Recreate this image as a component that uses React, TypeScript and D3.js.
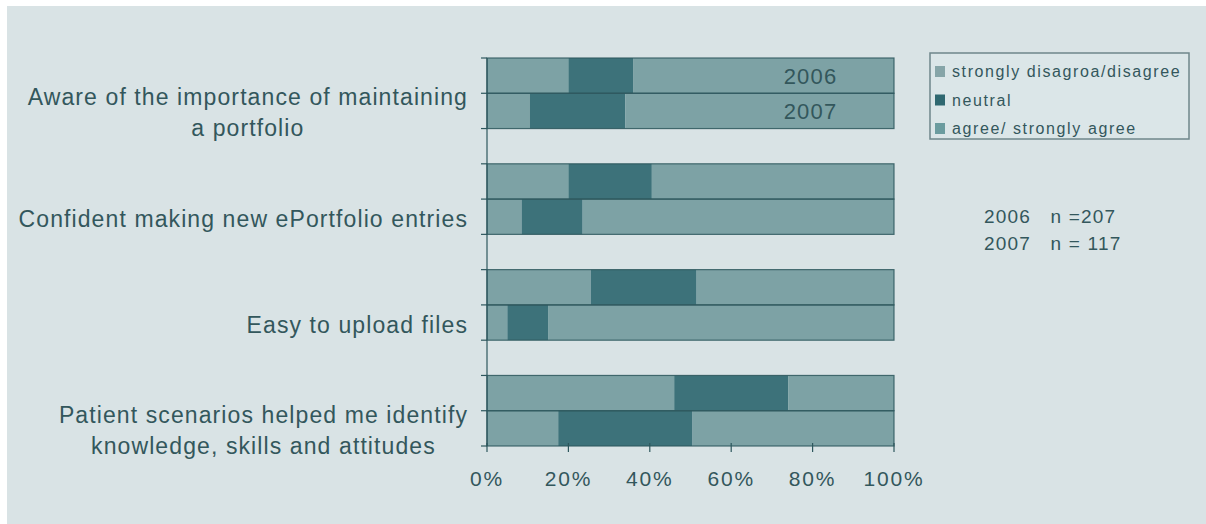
import React from "react";
import * as d3 from "d3";

// ---- data ----
const questions: string[][] = [
  ["Aware of the importance of maintaining", "a portfolio"],
  ["Confident making new ePortfolio entries"],
  ["Easy to upload files"],
  ["Patient scenarios helped me identify", "knowledge, skills and attitudes"],
];
const years = ["2006", "2007"];
const seriesNames = ["strongly disagroa/disagree", "neutral", "agree/ strongly agree"];
const disagree2006 = [20, 20, 25.5, 46];
const neutral2006 = [16, 20.5, 26, 28];
const agree2006 = [64, 59.5, 48.5, 26];
const disagree2007 = [10.5, 8.5, 5, 17.5];
const neutral2007 = [23.5, 15, 10, 33];
const agree2007 = [66, 76.5, 85, 49.5];
const xTicks = [0, 20, 40, 60, 80, 100];
const sampleNotes = ["2006   n =207", "2007   n = 117"];

const W = 1206;
const H = 524;
const BG = "#d9e3e5";
const LIGHT = "#7da2a5";
const DARK = "#3d727a";
const LINE = "#2d575d";
const TEXT = "#33575c";
const FONT = "'Liberation Sans', Arial, sans-serif";
const seriesColors = [LIGHT, DARK, LIGHT];
const legendSwatch = ["#86a5a8", "#2f6870", "#6b9c9f"];

type Row = { key: string; q: number; year: string; d: number; n: number; a: number };

const rows: Row[] = [];
const bandKeys: string[] = [];
questions.forEach((_, qi) => {
  years.forEach((y, yi) => {
    const key = `q${qi}-${y}`;
    bandKeys.push(key);
    rows.push({
      key,
      q: qi,
      year: y,
      d: yi === 0 ? disagree2006[qi] : disagree2007[qi],
      n: yi === 0 ? neutral2006[qi] : neutral2007[qi],
      a: yi === 0 ? agree2006[qi] : agree2007[qi],
    });
  });
  if (qi < questions.length - 1) bandKeys.push(`gap${qi}`);
});

const measure = (() => {
  let ctx: CanvasRenderingContext2D | null = null;
  return (t: string, size: number, ls: number) => {
    if (!ctx) ctx = document.createElement("canvas").getContext("2d");
    const base = ctx
      ? ((ctx.font = `${size}px 'Liberation Sans', Arial, sans-serif`), ctx.measureText(t).width)
      : t.length * size * 0.5;
    return base + t.length * ls;
  };
})();

export default function App() {
  const x = d3.scaleLinear().domain([0, 100]).range([487, 894]);
  const y = d3.scaleBand<string>().domain(bandKeys).range([58, 446]).padding(0);
  const stack = d3.stack<Row>().keys(["d", "n", "a"]);
  const stacked = stack(rows);

  const labelFont = 23;
  const labelLS = 1.1;
  const labelRight = 468;
  const lineH = 31;

  return (
    <svg width={W} height={H} style={{ position: "absolute", left: 0, top: 0 }} fontFamily={FONT}>
      <rect x={0} y={0} width={W} height={H} fill="#ffffff" />
      <rect x={7} y={6} width={W - 7} height={H - 6} fill={BG} />

      {/* bars */}
      {stacked.map((s, si) => (
        <g key={si}>
          {s.map((d) => (
            <rect
              key={d.data.key}
              x={x(d[0])}
              y={y(d.data.key)!}
              width={x(d[1]) - x(d[0])}
              height={y.bandwidth()}
              fill={seriesColors[si]}
            />
          ))}
        </g>
      ))}
      {/* bar outlines */}
      {rows.map((r) => (
        <rect
          key={"o" + r.key}
          x={x(0)}
          y={y(r.key)!}
          width={x(100) - x(0)}
          height={y.bandwidth()}
          fill="none"
          stroke={LINE}
          strokeWidth={1.2}
          opacity={0.85}
        />
      ))}

      {/* y axis */}
      <line x1={x(0)} x2={x(0)} y1={y.range()[0]} y2={y.range()[1]} stroke={LINE} strokeWidth={1.2} />
      {bandKeys.concat(["end"]).map((k, i) => {
        const yy = i < bandKeys.length ? y(k)! : y.range()[1];
        return <line key={"yt" + i} x1={x(0) - 6} x2={x(0)} y1={yy} y2={yy} stroke={LINE} strokeWidth={1.2} />;
      })}

      {/* x axis ticks */}
      {xTicks.map((t) => (
        <g key={"xt" + t}>
          <line x1={x(t)} x2={x(t)} y1={y.range()[1] - 3} y2={y.range()[1] + 6} stroke={LINE} strokeWidth={1.2} />
          <text x={x(t)} y={486} textAnchor="middle" fontSize={21} letterSpacing={1.8} fill={TEXT}>
            {t}%
          </text>
        </g>
      ))}

      {/* year labels inside first pair */}
      {rows
        .filter((r) => r.q === 0)
        .map((r) => (
          <text
            key={"yr" + r.key}
            x={x(79.5)}
            y={y(r.key)! + y.bandwidth() / 2 + 8}
            textAnchor="middle"
            fontSize={22}
            letterSpacing={1.2}
            fill={TEXT}
          >
            {r.year}
          </text>
        ))}

      {/* category labels */}
      {questions.map((lines, qi) => {
        const maxW = Math.max(...lines.map((l) => measure(l, labelFont, labelLS)));
        const cx = labelRight - maxW / 2;
        const key2007 = `q${qi}-${years[1]}`;
        const cy = y(key2007)! + y.bandwidth() / 2 + 2;
        const top = cy - ((lines.length - 1) * lineH) / 2;
        return (
          <text key={"q" + qi} textAnchor="middle" fontSize={labelFont} letterSpacing={labelLS} fill={TEXT}>
            {lines.map((l, li) => (
              <tspan key={li} x={cx} y={top + li * lineH + 8}>
                {l}
              </tspan>
            ))}
          </text>
        );
      })}

      {/* legend */}
      <rect x={930} y={53} width={259} height={86} fill="#dbe6e8" stroke="#6f878b" strokeWidth={1.5} />
      {seriesNames.map((n, i) => (
        <g key={"lg" + i}>
          <rect x={935} y={66 + i * 28.5} width={10} height={11} fill={legendSwatch[i]} />
          <text x={952} y={77 + i * 28.5} fontSize={16} letterSpacing={1.6} fill={TEXT}>
            {n}
          </text>
        </g>
      ))}

      {/* sample sizes */}
      {sampleNotes.map((s, i) => (
        <text
          key={"n" + i}
          x={984}
          y={223 + i * 27}
          fontSize={19}
          letterSpacing={1.2}
          fill={TEXT}
          style={{ whiteSpace: "pre" }}
        >
          {s}
        </text>
      ))}
    </svg>
  );
}
